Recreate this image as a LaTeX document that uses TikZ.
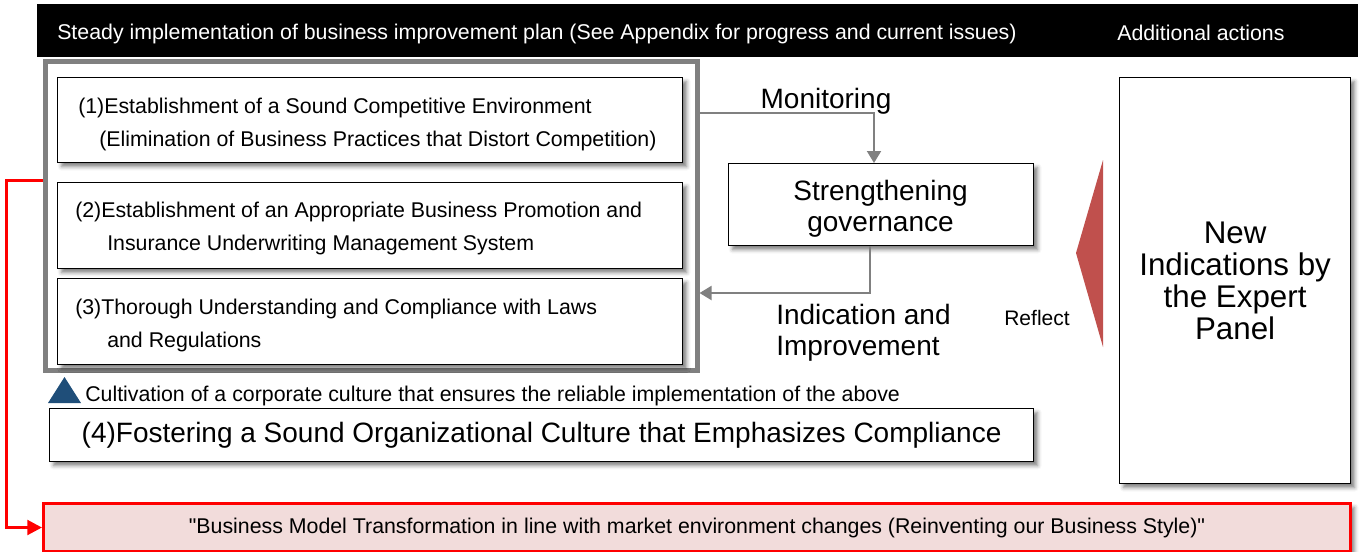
\documentclass[tikz,border=0pt]{standalone}
\usepackage{fontspec}
\setmainfont{Liberation Sans}
\usetikzlibrary{arrows.meta,shadows.blur}
\definecolor{frameGray}{RGB}{128,128,128}
\definecolor{reflectRed}{RGB}{192,80,77}
\definecolor{cultureBlue}{RGB}{31,78,121}
\definecolor{reinventPink}{RGB}{242,220,219}
\definecolor{lineRed}{RGB}{255,0,0}

\begin{document}
\begin{tikzpicture}[x=0.75pt, y=-0.75pt,
    every node/.style={inner sep=0pt},
    shadowed/.style={blur shadow={shadow xshift=3pt, shadow yshift=-3pt,
        shadow blur radius=3pt, shadow opacity=50}},
    plainbox/.style={draw=black, line width=0.9pt, fill=white, shadowed, anchor=north west},
    planbox/.style={plainbox, minimum width=468.75pt},
    plantext/.style={anchor=west, align=left, font=\fontsize{16pt}{24.75pt}\selectfont},
    bigtext/.style={font=\fontsize{21pt}{23.25pt}\selectfont},
    smalltext/.style={font=\fontsize{16pt}{19pt}\selectfont},
    garrow/.style={draw=frameGray, line width=1.5pt,
        -{Triangle[length=9pt,width=10.5pt]}},
    redarrow/.style={draw=lineRed, line width=2.25pt,
        -{Triangle[length=11pt,width=11pt]}}]
  \useasboundingbox (0,0) rectangle (1362,551);

  % Header bar
  \node[fill=black, anchor=north west, minimum width=990.75pt, minimum height=39.75pt]
    (head) at (37,4) {};
  \node[smalltext, text=white, anchor=west] (planhead) at (57,34)
    {Steady implementation of business improvement plan (See Appendix for progress and current issues)};
  \node[smalltext, text=white, anchor=west] (addhead) at (1117,33) {Additional actions};

  % Frame round the three measures
  \node[draw=frameGray, line width=3.4pt, anchor=north west,
    minimum width=489pt, minimum height=231.75pt] (frame) at (43,59) {};

  % Measures (1)-(3)
  \node[planbox, minimum height=63.75pt] (plan1) at (57,77) {};
  \node[planbox, minimum height=64.5pt] (plan2) at (57,182) {};
  \node[planbox, minimum height=64.5pt] (plan3) at (57,278) {};
  \node[plantext] (plan1text) at (78,124.5)
    {(1)Establishment of a Sound Competitive Environment\\
     \hspace*{15.75pt}(Elimination of Business Practices that Distort Competition)};
  \node[plantext] (plan2text) at (75,228.5)
    {(2)Establishment of an Appropriate Business Promotion and\\
     \hspace*{24pt}Insurance Underwriting Management System};
  \node[plantext] (plan3text) at (75,325)
    {(3)Thorough Understanding and Compliance with Laws\\
     \hspace*{24pt}and Regulations};

  % Governance loop
  \node[plainbox, minimum width=228.75pt, minimum height=61.5pt] (gov) at (728,163) {};
  \node[bigtext, align=center] (govtext) at (880.5,209) {Strengthening\\governance};
  \node[bigtext] (monitor) at (826,101) {Monitoring};
  \node[bigtext, anchor=west, align=left] (indicate) at (776,333)
    {Indication and\\Improvement};
  \coordinate (monturn) at (874,113);
  \coordinate (indturn) at (870,293);
  \draw[garrow] (frame.east |- monturn) -- (monturn) -- (gov.north -| monturn);
  \draw[garrow] (gov.south -| indturn) -- (indturn) -- (frame.east |- indturn);

  % Expert panel
  \node[plainbox, align=center, font=\fontsize{23.5pt}{24pt}\selectfont,
    minimum width=173.25pt, minimum height=304.5pt] (panel) at (1119,77)
    {New\\Indications by\\the Expert\\Panel};
  \fill[reflectRed] (1103,160) -- (1076,253) -- (1103,347) -- cycle;
  \node[font=\fontsize{15.75pt}{19pt}\selectfont] (reflect) at (1037,318) {Reflect};

  % Measure (4)
  \fill[cultureBlue] (48,403) -- (64.5,377) -- (81,403) -- cycle;
  \node[smalltext, anchor=west] (cultivate) at (85,396)
    {Cultivation of a corporate culture that ensures the reliable implementation of the above};
  \node[plainbox, bigtext, minimum width=738pt, minimum height=39.75pt]
    (culture) at (49,408) {(4)Fostering a Sound Organizational Culture that Emphasizes Compliance};

  % Business style reinvention
  \node[draw=lineRed, line width=2.25pt, fill=reinventPink, shadowed, anchor=north west,
    minimum width=980.25pt, minimum height=36pt] (reinvent) at (42,502) {};
  \node[smalltext] (reinventtext) at (697,528)
    {\textquotedbl Business Model Transformation in line with market environment changes (Reinventing our Business Style)\textquotedbl};
  \coordinate (redturn) at (6,180);
  \draw[redarrow] (frame.west |- redturn) -- (redturn) |- (reinvent.west);
\end{tikzpicture}
\end{document}
